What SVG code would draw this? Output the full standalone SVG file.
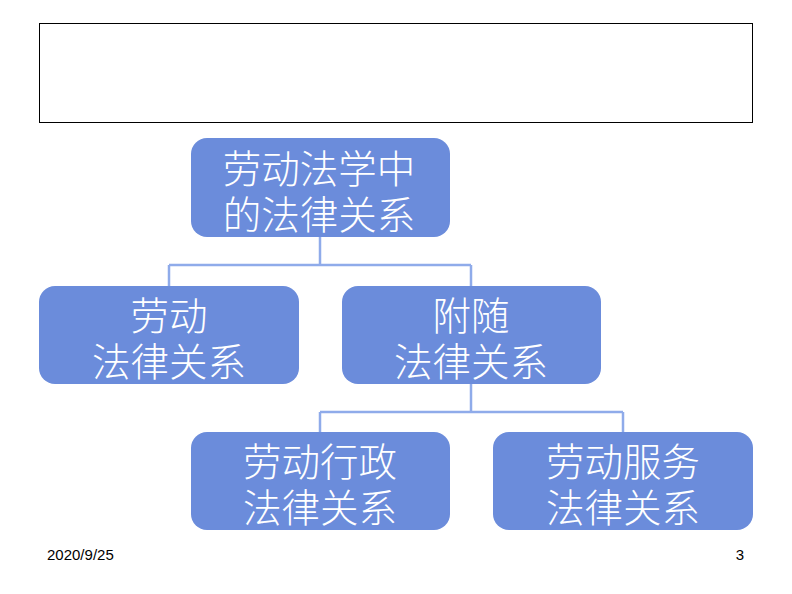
<svg xmlns="http://www.w3.org/2000/svg" width="792" height="594" viewBox="0 0 792 594">
<style>
.node rect{fill:#6b8cdb;}
.node text{fill:#ffffff;font-family:"Noto Sans CJK SC","Noto Sans CJK JP",sans-serif;font-size:38.5px;font-weight:300;text-anchor:middle;}
.conn path{fill:none;stroke:#8fabea;stroke-width:2.5;}
.foot{font-family:"Liberation Sans",Arial,sans-serif;font-size:15px;fill:#000;}
</style>
<rect width="792" height="594" fill="#ffffff"/>
<rect x="39.5" y="23.5" width="713" height="99" fill="#ffffff" stroke="#000000" stroke-width="1"/>
<g class="conn">
<path d="M320,237 V265 M169,265 H471 M169,265 V286 M471,265 V286"/>
<path d="M471,384 V412 M320,412 H623 M320,412 V432 M623,412 V432"/>
</g>
<g class="node" id="root">
<rect x="191" y="138" width="259" height="99" rx="16"/>
<text><tspan x="319" y="183">劳动法学中</tspan><tspan x="319" y="229">的法律关系</tspan></text>
</g>
<g class="node" id="labor">
<rect x="39" y="286" width="260" height="98" rx="16"/>
<text><tspan x="169" y="330">劳动</tspan><tspan x="169" y="376">法律关系</tspan></text>
</g>
<g class="node" id="attached">
<rect x="342" y="286" width="259" height="98" rx="16"/>
<text><tspan x="471" y="330">附随</tspan><tspan x="471" y="376">法律关系</tspan></text>
</g>
<g class="node" id="admin">
<rect x="191" y="432" width="259" height="98" rx="16"/>
<text><tspan x="320" y="476">劳动行政</tspan><tspan x="320" y="522">法律关系</tspan></text>
</g>
<g class="node" id="service">
<rect x="493" y="432" width="260" height="98" rx="16"/>
<text><tspan x="623" y="476">劳动服务</tspan><tspan x="623" y="522">法律关系</tspan></text>
</g>
<text class="foot" x="47" y="560">2020/9/25</text>
<text class="foot" x="744" y="560" text-anchor="end">3</text>
</svg>
